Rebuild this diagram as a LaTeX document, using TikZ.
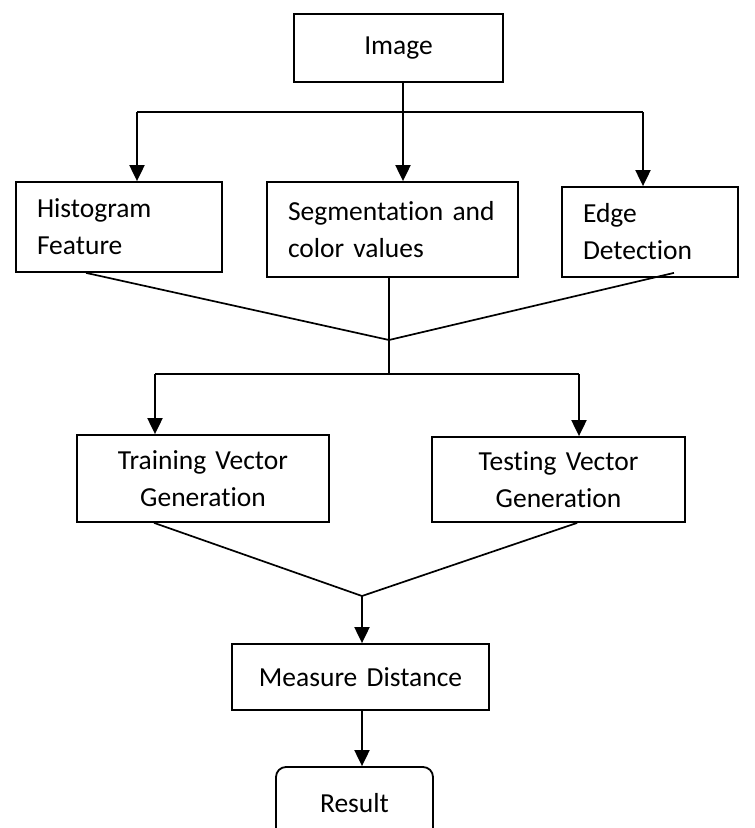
\documentclass[tikz,border=0pt]{standalone}
\usepackage{fontspec}
\setmainfont{Carlito}[Ligatures=NoCommon]
\usetikzlibrary{arrows.meta,calc}
\begin{document}
\begin{tikzpicture}[x=1pt,y=-1pt,
	box/.style={draw, line width=1.8pt, inner ysep=0pt, font=\fontsize{27.5}{37}\selectfont},
	lbox/.style={box, align=left, inner xsep=21pt},
	cbox/.style={box, align=center, inner xsep=0pt},
	flow/.style={line width=2pt, -{Triangle[width=15pt,length=16pt]}},
	wire/.style={line width=1.7pt}]
\useasboundingbox (0,0) rectangle (755,828);
\clip (0,0) rectangle (755,828);
% boxes
\node[cbox, text width=209pt, minimum height=68pt](image) at (398.5,48) {Image};
\node[lbox, text width=164pt, minimum height=90pt](hist) at (119,227) {Histogram\\Feature};
\node[lbox, text width=209pt, minimum height=95pt](seg) at (392.5,229.5) {Segmentation and\\color values};
\node[lbox, text width=134pt, minimum height=90pt](edge) at (650,232) {Edge\\Detection};
\node[cbox, text width=252pt, minimum height=87pt](train) at (203,478.5) {Training Vector\\Generation};
\node[cbox, text width=253pt, minimum height=85pt](test) at (558.5,479.5) {Testing Vector\\Generation};
\node[cbox, text width=257pt, minimum height=66pt](meas) at (360.5,677) {Measure Distance};
\node[cbox, text width=157pt, minimum height=73pt, rounded corners=10pt](res) at (354.5,803.5) {Result};
% branch points
\coordinate (top) at (403,112);
\coordinate (b1) at (137,112);
\coordinate (b3) at (643,112);
\coordinate (j1) at (389,340);
\coordinate (mid) at (389,374);
\coordinate (c1) at (155,374);
\coordinate (c2) at (579,374);
\coordinate (j2) at (362,596);
% first split
\draw[wire] (image.south -| top) -- (top);
\draw[wire] (b1) -- (b3);
\draw[flow] (b1) -- (b1 |- hist.north);
\draw[flow] (top) -- (top |- seg.north);
\draw[flow] (b3) -- (b3 |- edge.north);
% merge
\draw[wire] ($(hist.south west)+(71,0)$) -- (j1);
\draw[wire] ($(edge.south east)+(-65,-5)$) -- (j1);
\draw[wire] (j1 |- seg.south) -- (mid);
% second split
\draw[wire] (c1) -- (c2);
\draw[flow] (c1) -- (c1 |- train.north);
\draw[flow] (c2) -- (c2 |- test.north);
\draw[wire] ($(train.south west)+(78,0)$) -- (j2);
\draw[wire] ($(test.south west)+(146,0)$) -- (j2);
\draw[flow] (j2) -- (j2 |- meas.north);
\draw[flow] (meas.south -| j2) -- (j2 |- res.north);
\end{tikzpicture}
\end{document}
